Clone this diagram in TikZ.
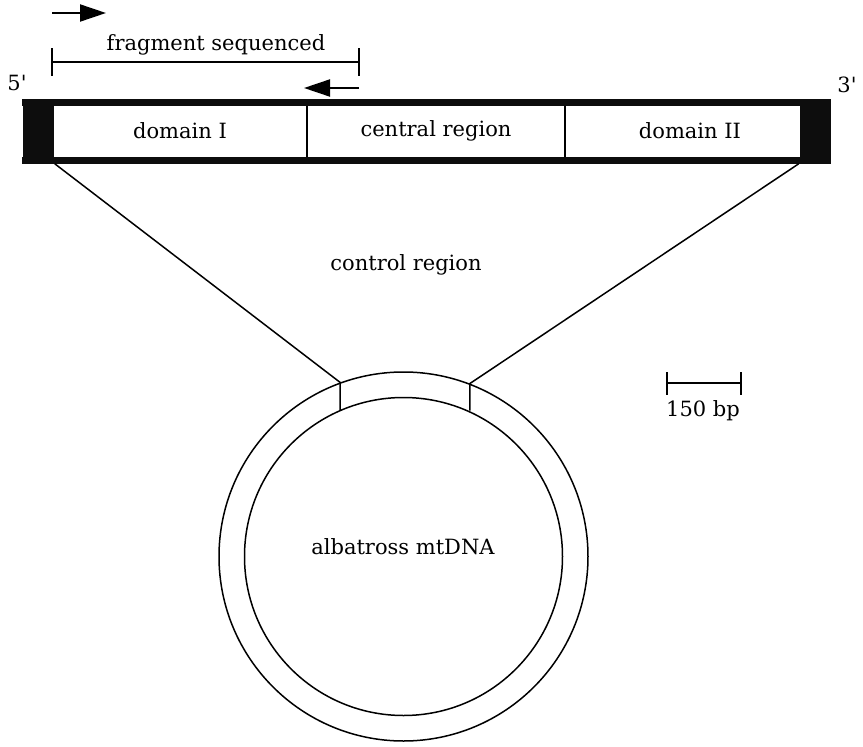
\documentclass[tikz,border=0pt]{standalone}
\usepackage{fontspec}
\setmainfont{DejaVu Serif}
\newfontfamily\primefont{DejaVu Serif}[Ligatures=TeXOff]
\usepackage{tikz}
\usetikzlibrary{positioning, arrows.meta}

\begin{document}
\begin{tikzpicture}[x=1pt, y=-1pt, line width=1.5pt,
    endblock/.style={fill=black!95, draw=none, minimum width=31pt, minimum height=63pt, inner sep=0pt},
    ring/.style={circle, draw, inner sep=0pt},
    primer/.style={line width=2pt, -{Triangle[length=26pt, width=17pt]}},
    label/.style={font=\fontsize{21}{25}\selectfont}]
  \useasboundingbox (0,0) rectangle (863,747);

  %bar
  \node[endblock] (five)  at (38.5,131.5) {};
  \node[endblock] (three) at (815,131.5) {};
  \draw[line width=6.5pt, black!95] ([yshift=-3.25pt]five.north west) -- ([yshift=-3.25pt]three.north east);
  \draw[line width=6.5pt, black!95] ([yshift=3.25pt]five.south west) -- ([yshift=3.25pt]three.south east);
  \node[label] (dom1) at (180,131) {domain I};
  \node[label] (cent) at (436,131) {central region};
  \node[label] (dom2) at (690,131) {domain II};
  \foreach \x in {307,565}
    \draw (\x,106) -- (\x,157);
  \node[label] (endfive)  at (17,83) {\primefont 5'};
  \node[label] (endthree) at (847,85) {\primefont 3'};

  %fragment
  \coordinate (fragL) at (52,62);
  \coordinate (fragR) at (359,62);
  \draw (fragL) -- (fragR);
  \foreach \x in {52,359}
    \draw (\x,48) -- (\x,76);
  \node[label] (frag) at (216,45) {fragment sequenced};

  % primers
  \coordinate (fwd) at (52,13);
  \coordinate (rev) at (359,88);
  \draw[primer] (fwd) -- ++(54,0);
  \draw[primer] (rev) -- ++(-55,0);

  %circle
  \node[ring, minimum size=369pt] (outer) at (403.5,556.5) {};
  \node[ring, minimum size=318pt] (inner) at (403.5,556.5) {};
  \node[label] (mtdna) at (403,547) {albatross mtDNA};
  \node[label] (ctrl) at (406,265) {control region};

  % zoom lines
  \draw (five.south east) -- (outer.110.8) -- (outer.110.8 |- inner.114.3);
  \draw (three.south west) -- (outer.69.9) -- (outer.69.9 |- inner.66.5);

  %scale
  \coordinate (scaleL) at (667,383);
  \coordinate (scaleR) at (741,383);
  \draw (scaleL) -- (scaleR);
  \foreach \x in {667,741}
    \draw (\x,372) -- (\x,395);
  \node[label] (bp) at (703,411) {150 bp};
\end{tikzpicture}
\end{document}
